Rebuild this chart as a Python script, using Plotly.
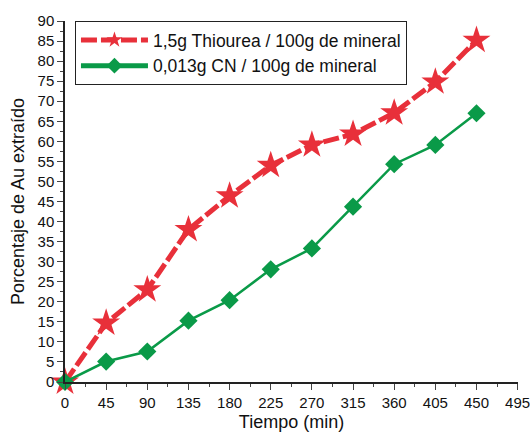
import plotly.graph_objects as go

tiempo = [0, 45, 90, 135, 180, 225, 270, 315, 360, 405, 450]
thiourea = [0, 14.7, 23.0, 38.0, 46.4, 54.0, 59.1, 61.8, 67.1, 74.8, 85.2]
cianuro = [0, 5.1, 7.6, 15.3, 20.4, 28.1, 33.3, 43.7, 54.3, 59.1, 67.0]
x_ticks = list(range(0, 496, 45))
y_ticks = list(range(0, 91, 5))

FONT = "Liberation Sans, Arial, sans-serif"

fig = go.Figure()
fig.add_trace(go.Scatter(
    x=tiempo, y=thiourea, mode="lines+markers",
    name="1,5g Thiourea / 100g de mineral",
    line=dict(color="#e8303a", width=5, dash="16px,4px"),
    marker=dict(symbol="star", size=21, color="#e8303a"),
    cliponaxis=False,
))
fig.add_trace(go.Scatter(
    x=tiempo, y=cianuro, mode="lines+markers",
    name="0,013g CN / 100g de mineral",
    line=dict(color="#0a9a48", width=2.5),
    marker=dict(symbol="diamond", size=14, color="#0a9a48"),
    cliponaxis=False,
))

fig.update_layout(
    width=530, height=434,
    margin=dict(l=65, r=12, t=21, b=52, autoexpand=False),
    plot_bgcolor="white", paper_bgcolor="white",
    font=dict(family=FONT, size=15, color="#111"),
    showlegend=True,
    legend=dict(x=0.022, y=1.0, xanchor="left", yanchor="top",
                bordercolor="#222", borderwidth=1, bgcolor="white",
                font=dict(size=17.5, family=FONT), tracegroupgap=0,
                itemsizing="constant", itemwidth=67),
)
fig.update_xaxes(
    range=[0, 495.4], tickvals=x_ticks, ticks="outside", ticklen=6, tickwidth=1.2,
    showline=True, linecolor="#222", linewidth=1.5, showgrid=False, zeroline=False,
    minor=dict(ticks="outside", ticklen=3, tickwidth=1, dtick=22.5, tick0=0),
    title=dict(text="Tiempo (min)", font=dict(size=18), standoff=6),
    tickfont=dict(size=15), automargin=False, ticklabeloverflow="allow",
)
fig.update_yaxes(
    range=[0, 90], tickvals=y_ticks, ticks="outside", ticklen=6, tickwidth=1.2,
    showline=True, linecolor="#222", linewidth=1.5, showgrid=False, zeroline=False,
    minor=dict(ticks="outside", ticklen=3, tickwidth=1, dtick=2.5, tick0=0),
    title=dict(text="Porcentaje de Au extraído", font=dict(size=18), standoff=8),
    tickfont=dict(size=15), automargin=False,
)
fig.write_html("out.html", config={"displayModeBar": False},
               post_script="document.body.style.margin='0';")
